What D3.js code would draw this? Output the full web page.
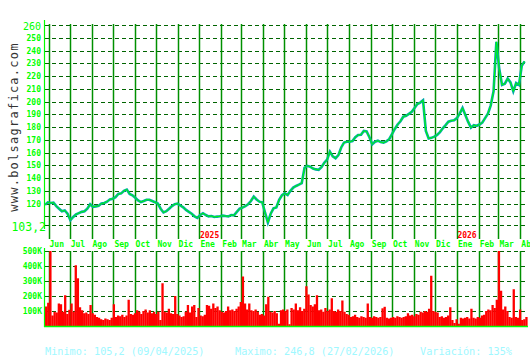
<!DOCTYPE html>
<html lang="es">

<head>
    <meta charset="UTF-8">
    <title>bolsagrafica - cotización y volumen</title>
    <script src="https://d3js.org/d3.v7.min.js"></script>
    <style>
        html,
        body {
            margin: 0;
            padding: 0;
            background: #fff;
        }

        svg {
            display: block;
            background: #fff;
        }

        text {
            font-family: "DejaVu Sans Mono", "Liberation Mono", monospace;
        }
    </style>
</head>

<body>
    <svg width="530" height="360"></svg>
    <script>
        // Datos
        const inicio = new Date(2024, 4, 27);
        const fin = new Date(2026, 3, 9);
        const pasoPrecio = 4;   // días entre cierres
        const pasoVolumen = 3;  // días entre barras de volumen

        const cierres = [
            119, 121, 120.5, 120.8, 118, 116, 114, 114.6, 112, 107,
            109.5, 111.5, 112.5, 113.5, 114, 116, 119.5, 117.5, 117.8, 118.3,
            120, 120.5, 121.5, 123.3, 123.8, 125, 127.5, 128, 130, 131,
            127.5, 126.5, 124.5, 122.5, 121.2, 122, 123, 123, 122, 121,
            120, 116, 113, 114, 116, 118, 119.5, 120, 118.5, 117,
            115, 113.5, 112, 110, 108.8, 111, 112.4, 111, 110, 110.2,
            109.5, 109.8, 110, 110.5, 110.2, 110, 111, 110.8, 113.5, 116,
            116.8, 118, 119.5, 122, 125.5, 123.2, 121.5, 121, 113, 105.2,
            112, 116.3, 117, 123, 126.5, 128, 126.7, 130, 132.5, 133.8,
            134.8, 136, 148, 149.6, 148.9, 147.5, 146.8, 146.5, 148.5, 152,
            154.5, 160.7, 157, 155.5, 158, 164, 167.8, 168.5, 168.5, 169,
            172, 173.8, 174, 177, 176.5, 172, 166.5, 168.5, 169.3, 168.2,
            167.7, 168.8, 170.5, 174.5, 178.5, 182, 184.5, 188.1, 188.8, 190.3,
            192, 195, 198, 199.2, 201, 177, 171, 171.5, 172.5, 173.8,
            176, 179, 181.5, 184.2, 185, 185.3, 187, 190.5, 195, 189.5,
            184, 179.5, 181.5, 181, 182, 183.5, 187, 190.5, 197, 208,
            246.8, 226, 213, 214, 218, 215, 208, 214.5, 213, 228,
            231.5
        ];

        // volumen en miles de títulos
        const volumenes = [
            130, 155, 500, 70, 95, 90, 150, 145, 95, 205,
            80, 108, 150, 95, 405, 318, 125, 105, 85, 90,
            80, 140, 85, 75, 60, 55, 45, 40, 50, 45,
            40, 55, 145, 60, 70, 65, 75, 60, 70, 175,
            80, 75, 85, 105, 95, 80, 100, 110, 90, 105,
            85, 95, 80, 95, 40, 285, 95, 90, 115, 85,
            80, 200, 80, 70, 60, 65, 95, 140, 90, 130,
            140, 60, 120, 70, 65, 75, 140, 135, 115, 150,
            120, 130, 105, 95, 90, 100, 130, 105, 110, 100,
            115, 130, 160, 330, 150, 110, 150, 105, 100, 110,
            95, 75, 80, 70, 145, 195, 95, 90, 100, 85,
            15, 105, 110, 100, 110, 12, 120, 110, 150, 105,
            125, 100, 115, 265, 210, 140, 130, 145, 205, 105,
            110, 95, 120, 100, 110, 185, 100, 95, 110, 100,
            170, 95, 80, 75, 60, 65, 75, 60, 55, 65,
            60, 55, 150, 60, 55, 65, 60, 55, 60, 118,
            128, 55, 50, 55, 60, 55, 65, 60, 55, 60,
            65, 85, 70, 75, 65, 80, 75, 95, 90, 100,
            95, 115, 335, 100, 95, 90, 60, 65, 55, 60,
            70, 125, 40, 20, 45, 15, 55, 50, 55, 60,
            50, 115, 55, 50, 60, 55, 70, 75, 100, 110,
            105, 140, 120, 175, 505, 235, 110, 130, 100, 60,
            55, 245, 60, 55, 110, 40, 45, 60
        ];

        const ticksPrecio = [120, 130, 140, 150, 160, 170, 180, 190, 200, 210, 220, 230, 240, 250];
        const lineasPrecio = [110, 120, 130, 140, 150, 160, 170, 180, 190, 200, 210, 220, 230, 240, 250, 260];
        const precioMin = 103.2;
        const precioMax = 260;
        const ticksVolumen = [100, 200, 300, 400, 500];
        const meses = ["Ene", "Feb", "Mar", "Abr", "May", "Jun", "Jul", "Ago", "Sep", "Oct", "Nov", "Dic"];
        const resumen = [
            "Minimo: 105,2 (09/04/2025)",
            "Maximo: 246,8 (27/02/2026)",
            "Variación: 135%"
        ];

        const svg = d3.select("svg");
        const verde = "#00ff00";
        const verdeOscuro = "#006400";
        const verdeMes = "#009000";

        const x = d3.scaleTime().domain([inicio, fin]).range([45, 526]);
        const y = d3.scaleLinear().domain([precioMin, precioMax]).range([225, 25]);
        const yv = d3.scaleLinear().domain([0, 500]).range([326, 251]);

        const primerosMes = d3.timeMonth.range(d3.timeMonth.ceil(inicio), fin);

        // marca de agua vertical
        svg.append("text")
            .attr("transform", "translate(17.5,127) rotate(-90)")
            .attr("text-anchor", "middle")
            .attr("font-size", 12)
            .attr("letter-spacing", 1.25)
            .attr("fill", "#333")
            .text("www.bolsagrafica.com");

        // ---- gráfico de precios ----
        const gp = svg.append("g");

        gp.selectAll("line.h")
            .data(lineasPrecio.concat([precioMin]))
            .join("line")
            .attr("x1", 45).attr("x2", 528)
            .attr("y1", d => Math.round(y(d)) + 0.5)
            .attr("y2", d => Math.round(y(d)) + 0.5)
            .attr("stroke", verdeOscuro)
            .attr("stroke-width", 1.1)
            .attr("stroke-dasharray", "4,3");

        gp.selectAll("line.v")
            .data(primerosMes)
            .join("line")
            .attr("x1", d => Math.round(x(d)) + 0.5)
            .attr("x2", d => Math.round(x(d)) + 0.5)
            .attr("y1", 24).attr("y2", 239)
            .attr("stroke", verdeMes)
            .attr("stroke-width", 1.5);

        gp.append("line")
            .attr("x1", 44.5).attr("x2", 44.5)
            .attr("y1", 20).attr("y2", 229)
            .attr("stroke", verde)
            .attr("stroke-width", 1.2);

        const linea = d3.line()
            .x((d, i) => x(d3.timeDay.offset(inicio, i * pasoPrecio)))
            .y(d => y(d));

        gp.append("path")
            .datum(cierres)
            .attr("d", linea)
            .attr("fill", "none")
            .attr("stroke", "#00a8a8")
            .attr("stroke-width", 2.6);

        gp.append("path")
            .datum(cierres)
            .attr("d", linea)
            .attr("fill", "none")
            .attr("stroke", verde)
            .attr("stroke-width", 1);

        // etiquetas eje y
        gp.selectAll("text.tick")
            .data(ticksPrecio)
            .join("text")
            .attr("x", 41)
            .attr("y", d => y(d) + 3)
            .attr("text-anchor", "end")
            .attr("font-size", 8)
            .attr("font-weight", "bold")
            .attr("fill", verde)
            .text(d => d);

        gp.append("text")
            .attr("x", 41).attr("y", y(precioMax) + 5)
            .attr("text-anchor", "end")
            .attr("font-size", 10)
            .attr("fill", verde)
            .text(d3.format(".0f")(precioMax));

        gp.append("text")
            .attr("x", 46).attr("y", y(precioMin) + 5.5)
            .attr("text-anchor", "end")
            .attr("font-size", 11.5)
            .attr("fill", verde)
            .text(String(precioMin).replace(".", ","));

        // meses y años
        gp.selectAll("text.mes")
            .data(primerosMes)
            .join("text")
            .attr("x", d => x(d) + 1)
            .attr("y", 247)
            .attr("font-size", 8)
            .attr("font-weight", "bold")
            .attr("fill", verde)
            .text(d => meses[d.getMonth()]);

        gp.selectAll("text.anio")
            .data(primerosMes.filter(d => d.getMonth() === 0))
            .join("text")
            .attr("x", d => x(d) + 0.5)
            .attr("y", 238)
            .attr("font-size", 8)
            .attr("font-weight", "bold")
            .attr("fill", "#ff0000")
            .text(d => d.getFullYear());

        // ---- gráfico de volumen ----
        const gv = svg.append("g");

        gv.selectAll("line.h")
            .data(ticksVolumen)
            .join("line")
            .attr("x1", 45).attr("x2", 528)
            .attr("y1", d => Math.round(yv(d)) + 0.5)
            .attr("y2", d => Math.round(yv(d)) + 0.5)
            .attr("stroke", verdeOscuro)
            .attr("stroke-width", 1.1)
            .attr("stroke-dasharray", "4,3");

        gv.selectAll("line.v")
            .data(primerosMes)
            .join("line")
            .attr("x1", d => Math.round(x(d)) + 0.5)
            .attr("x2", d => Math.round(x(d)) + 0.5)
            .attr("y1", 251).attr("y2", 326)
            .attr("stroke", verdeMes)
            .attr("stroke-width", 1.5);

        const anchoBarra = x(d3.timeDay.offset(inicio, pasoVolumen)) - x(inicio);
        gv.selectAll("rect")
            .data(volumenes)
            .join("rect")
            .attr("x", (d, i) => x(d3.timeDay.offset(inicio, i * pasoVolumen)))
            .attr("width", anchoBarra + 0.2)
            .attr("y", d => yv(Math.min(d, 500)))
            .attr("height", d => yv(0) - yv(Math.min(d, 500)))
            .attr("fill", "#ff0000");

        gv.append("line")
            .attr("x1", 44.5).attr("x2", 44.5)
            .attr("y1", 248).attr("y2", 327)
            .attr("stroke", verde)
            .attr("stroke-width", 1.2);

        gv.append("line")
            .attr("x1", 44).attr("x2", 528)
            .attr("y1", 326.5).attr("y2", 326.5)
            .attr("stroke", verde)
            .attr("stroke-width", 1.5);

        gv.selectAll("text")
            .data(ticksVolumen)
            .join("text")
            .attr("x", 42)
            .attr("y", d => yv(d) + 3)
            .attr("text-anchor", "end")
            .attr("font-size", 8)
            .attr("font-weight", "bold")
            .attr("fill", verde)
            .text(d => d + "K");

        // resumen inferior
        svg.selectAll("text.resumen")
            .data(resumen)
            .join("text")
            .attr("x", (d, i) => [45, 235, 420][i])
            .attr("y", 355)
            .attr("font-size", 10.2)
            .attr("fill", "#a0f8ff")
            .text(d => d);
    </script>
</body>

</html>
